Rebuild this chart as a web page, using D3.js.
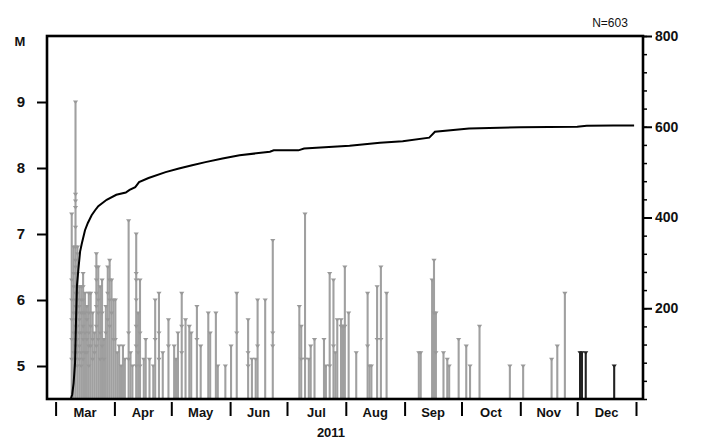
<!doctype html>
<html>
<head>
<script src="https://cdnjs.cloudflare.com/ajax/libs/d3/7.8.5/d3.min.js"></script>
<style>
  body { margin: 0; background: #fff; }
  text { font-family: "Liberation Sans", Arial, sans-serif; font-weight: bold; fill: #111; }
</style>
</head>
<body>
<svg width="706" height="440"></svg>
<script>
// days with M>=5 events, and the magnitudes recorded that day
var eventDays = [
  "2011-03-09","2011-03-10","2011-03-11","2011-03-12","2011-03-13","2011-03-14","2011-03-15",
  "2011-03-16","2011-03-17","2011-03-18","2011-03-19","2011-03-20","2011-03-21","2011-03-22",
  "2011-03-23","2011-03-24","2011-03-25","2011-03-26","2011-03-27","2011-03-28","2011-03-29",
  "2011-03-30","2011-03-31",
  "2011-04-01","2011-04-02","2011-04-03","2011-04-04","2011-04-05","2011-04-06","2011-04-08",
  "2011-04-09","2011-04-10","2011-04-12","2011-04-13","2011-04-14","2011-04-16","2011-04-17",
  "2011-04-19","2011-04-21","2011-04-22","2011-04-24","2011-04-26","2011-04-29",
  "2011-05-02","2011-05-03","2011-05-04","2011-05-06","2011-05-08","2011-05-10","2011-05-11",
  "2011-05-14","2011-05-16","2011-05-20","2011-05-21","2011-05-24","2011-05-25","2011-05-29",
  "2011-06-01","2011-06-04","2011-06-10","2011-06-12","2011-06-14","2011-06-15","2011-06-19",
  "2011-06-23",
  "2011-07-07","2011-07-08","2011-07-10","2011-07-12","2011-07-13","2011-07-15","2011-07-20",
  "2011-07-21","2011-07-23","2011-07-25","2011-07-26","2011-07-27","2011-07-29","2011-07-30",
  "2011-07-31",
  "2011-08-02","2011-08-06","2011-08-12","2011-08-13","2011-08-14","2011-08-17","2011-08-19",
  "2011-08-22",
  "2011-09-08","2011-09-09","2011-09-15","2011-09-16","2011-09-17","2011-09-21","2011-09-23",
  "2011-09-24","2011-09-29",
  "2011-10-03","2011-10-05","2011-10-10","2011-10-26",
  "2011-11-02","2011-11-17","2011-11-20","2011-11-24",
  "2011-12-02","2011-12-03","2011-12-05","2011-12-20"
];
var eventMags = [
  [7.3,6.3,6.0,5.7,5.4,5.1],[6.8,6.4,6.2,5.8,5.5,5.2],
  [9.0,7.6,7.5,7.4,7.1,6.8,6.6,6.5,6.4,6.2,6.1,6.0,5.9,5.8,5.7,5.6,5.5,5.4,5.3,5.2,5.1,5.0],
  [6.8,6.7,6.4,6.2,6.1,6.0,5.9,5.8,5.6,5.4,5.2,5.0],[6.2,5.9,5.7,5.5,5.3,5.1],
  [6.2,6.0,5.8,5.5,5.2,5.0],[6.4,6.2,6.0,5.8,5.6,5.4,5.1],
  [6.1,5.8,5.5,5.2],[5.9,5.7,5.4,5.2],[6.1,5.8,5.5,5.3,5.0],[6.1,5.6,5.3],[5.8,5.4,5.1],
  [5.5,5.2],[6.7,6.5,6.3,6.1,5.9,5.6,5.3],
  [6.5,6.0,5.8,5.4],[6.2,5.5,5.1],[6.3,5.8,5.3],[5.4,5.1],[5.9,5.5],[6.5,6.1,5.7],[6.6,6.3,6.0,5.6],
  [6.3,5.8],[6.0,5.4],
  [6.0,5.4],[5.2],[5.3],[5.0],[5.3],[5.1],[7.2,5.5,5.1],
  [5.2],[5.0],[7.0,6.4,6.3,6.0,5.6,5.3,5.0],[5.8,5.2],[6.3,5.5,5.0],[5.1],[5.4],
  [5.1],[5.0],[6.0,5.4],[6.1,5.5,5.1],[5.2],[5.7,5.3],
  [5.3],[5.1],[5.5],[6.1,5.6,5.2],[5.7],[5.6],[5.5],
  [5.9,5.4],[5.3],[5.8],[5.5],[5.8],[5.0],[5.0],
  [5.3],[6.1,5.5],[5.7,5.2,5.0],[5.1],[5.1],[6.0,5.3],[6.0],
  [6.9,5.5,5.3],
  [5.9],[5.6,5.1],[7.3,5.1],[5.1],[5.3],[5.4],[5.4],
  [5.0],[6.4,5.0],[6.3,5.3],[5.2],[5.7],[5.7,5.6],[5.6],
  [6.5,5.6],
  [5.8],[5.2],[6.1,5.3],[5.0],[5.0],[6.2,5.4],[6.5,5.4],
  [6.1],
  [5.2],[5.2],[6.3],[6.6,5.8],[5.8,5.2],[5.2],[5.1],
  [5.0],[5.4],
  [5.3],[5.0],[5.6],[5.0],
  [5.0],[5.1],[5.3],[6.1],
  [5.2],[5.2],[5.2],[5.0]
];
// events from this date on are drawn dark
var recentFrom = "2011-12-01";

// cumulative number of events (right axis)
var cumDates = [
  "2011-03-09 00:00","2011-03-09 18:00","2011-03-10 12:00","2011-03-11 06:00","2011-03-11 18:00",
  "2011-03-12 06:00","2011-03-13 00:00","2011-03-13 22:00","2011-03-14 19:00","2011-03-16 12:00",
  "2011-03-18 00:00","2011-03-20 00:00","2011-03-21 20:00","2011-03-23 12:00","2011-03-27 22:00",
  "2011-04-02 00:00","2011-04-07 00:00","2011-04-09 00:00","2011-04-12 00:00","2011-04-14 00:00",
  "2011-04-19 00:00","2011-04-28 00:00","2011-05-05 00:00","2011-05-12 00:00","2011-05-19 00:00",
  "2011-05-28 00:00","2011-06-06 00:00","2011-06-22 00:00","2011-06-24 00:00","2011-07-07 00:00",
  "2011-07-10 00:00","2011-08-03 00:00","2011-08-19 00:00","2011-08-31 00:00","2011-09-14 00:00",
  "2011-09-17 00:00","2011-10-05 00:00","2011-11-01 00:00","2011-12-01 00:00","2011-12-06 00:00",
  "2011-12-20 00:00","2011-12-31 00:00"
];
var cumCounts = [
  0, 10, 35, 80, 170,
  250, 285, 325, 342, 372,
  388, 405, 416, 425, 439,
  450, 455, 461, 467, 478,
  487, 500, 508, 515, 522,
  530, 537, 545, 548, 548,
  552, 558, 565, 568, 576,
  589, 596, 599, 600, 602,
  603, 603
];

var monthNames = ["Mar","Apr","May","Jun","Jul","Aug","Sep","Oct","Nov","Dec"];
var magTicks = [5, 6, 7, 8, 9];
var countTicks = [200, 400, 600, 800];
var totalLabel = "N=603";
var yearLabel = "2011";

var svg = d3.select("svg");
var boxL = 47, boxR = 643, boxT = 36, boxB = 399;

var parseDay = d3.timeParse("%Y-%m-%d");
var parseTime = d3.timeParse("%Y-%m-%d %H:%M");

var x = d3.scaleTime()
  .domain([new Date(2011, 2, 1), new Date(2012, 0, 1)])
  .range([55.6, 636]);
var yM = d3.scaleLinear().domain([4.5, 10]).range([boxB, boxT]);
var yN = d3.scaleLinear().domain([0, 800]).range([boxB, boxT]);

var events = eventDays.map((d, i) => ({
  date: d3.timeHour.offset(parseDay(d), 12),
  mags: eventMags[i],
  recent: parseDay(d) >= parseDay(recentFrom)
}));

// stems
svg.append("g").selectAll("line")
  .data(events)
  .enter()
  .append("line")
  .attr("x1", d => x(d.date))
  .attr("x2", d => x(d.date))
  .attr("y1", yM(4.5))
  .attr("y2", d => yM(d3.max(d.mags)))
  .style("stroke", d => d.recent ? "#222" : "#a0a0a0")
  .style("stroke-width", 2.1);

// markers, one per event
var marks = [];
events.forEach(e => e.mags.forEach(m => marks.push({date: e.date, mag: m, recent: e.recent})));
svg.append("g").selectAll("path")
  .data(marks)
  .enter()
  .append("path")
  .attr("d", d => {
    var cx = x(d.date), cy = yM(d.mag);
    return "M" + (cx - 2.6) + "," + (cy - 1.6) + "L" + (cx + 2.6) + "," + (cy - 1.6) + "L" + cx + "," + (cy + 2) + "Z";
  })
  .style("fill", d => d.recent ? "#222" : "#999");

// cumulative count line
var line = d3.line()
  .x(d => x(d[0]))
  .y(d => yN(d[1]));
svg.append("path")
  .datum(cumDates.map((d, i) => [parseTime(d), cumCounts[i]]))
  .attr("d", line)
  .style("fill", "none")
  .style("stroke", "#000")
  .style("stroke-width", 2);

// frame
svg.append("rect")
  .attr("x", boxL).attr("y", boxT)
  .attr("width", boxR - boxL).attr("height", boxB - boxT)
  .style("fill", "none")
  .style("stroke", "#000")
  .style("stroke-width", 2.6);

// left axis (magnitude)
var leftAxis = svg.append("g")
  .attr("transform", "translate(" + (boxL - 1) + ",0)")
  .call(d3.axisLeft(yM).tickValues(magTicks).tickFormat(d3.format("d")).tickSize(9).tickPadding(12));
leftAxis.select(".domain").remove();
leftAxis.selectAll("line").style("stroke-width", 2);
leftAxis.selectAll("text").style("font-size", "15px").attr("font-family", null);

svg.append("text")
  .attr("x", 20).attr("y", 46)
  .attr("text-anchor", "middle")
  .style("font-size", "13px")
  .text("M");

// right axis (count)
var rightMinor = svg.append("g")
  .attr("transform", "translate(" + (boxR + 1) + ",0)")
  .call(d3.axisRight(yN).tickValues(d3.range(0, 801, 40)).tickSize(3).tickFormat(""));
rightMinor.select(".domain").remove();
rightMinor.selectAll("line").style("stroke-width", 1.5);

var rightAxis = svg.append("g")
  .attr("transform", "translate(" + (boxR + 1) + ",0)")
  .call(d3.axisRight(yN).tickValues(countTicks).tickSize(8).tickPadding(3));
rightAxis.select(".domain").remove();
rightAxis.selectAll("line").style("stroke-width", 2);
rightAxis.selectAll("text").style("font-size", "14px").attr("font-family", null);

svg.append("text")
  .attr("x", 610).attr("y", 27)
  .attr("text-anchor", "middle")
  .style("font-size", "12px")
  .style("font-weight", "normal")
  .text(totalLabel);

// bottom axis (months)
var monthStarts = d3.timeMonth.range(new Date(2011, 2, 1), new Date(2012, 0, 2));
var bottomAxis = svg.append("g")
  .attr("transform", "translate(0," + (boxB + 3) + ")")
  .call(d3.axisBottom(x).tickValues(monthStarts).tickSize(14).tickFormat(""));
bottomAxis.select(".domain").remove();
bottomAxis.selectAll("line").style("stroke-width", 2);

svg.append("g").selectAll("text")
  .data(monthNames)
  .enter()
  .append("text")
  .attr("x", (d, i) => (x(monthStarts[i]) + x(monthStarts[i + 1])) / 2)
  .attr("y", 417)
  .attr("text-anchor", "middle")
  .style("font-size", "13px")
  .text(d => d);

svg.append("text")
  .attr("x", 331).attr("y", 437)
  .attr("text-anchor", "middle")
  .style("font-size", "13px")
  .text(yearLabel);
</script>
</body>
</html>
